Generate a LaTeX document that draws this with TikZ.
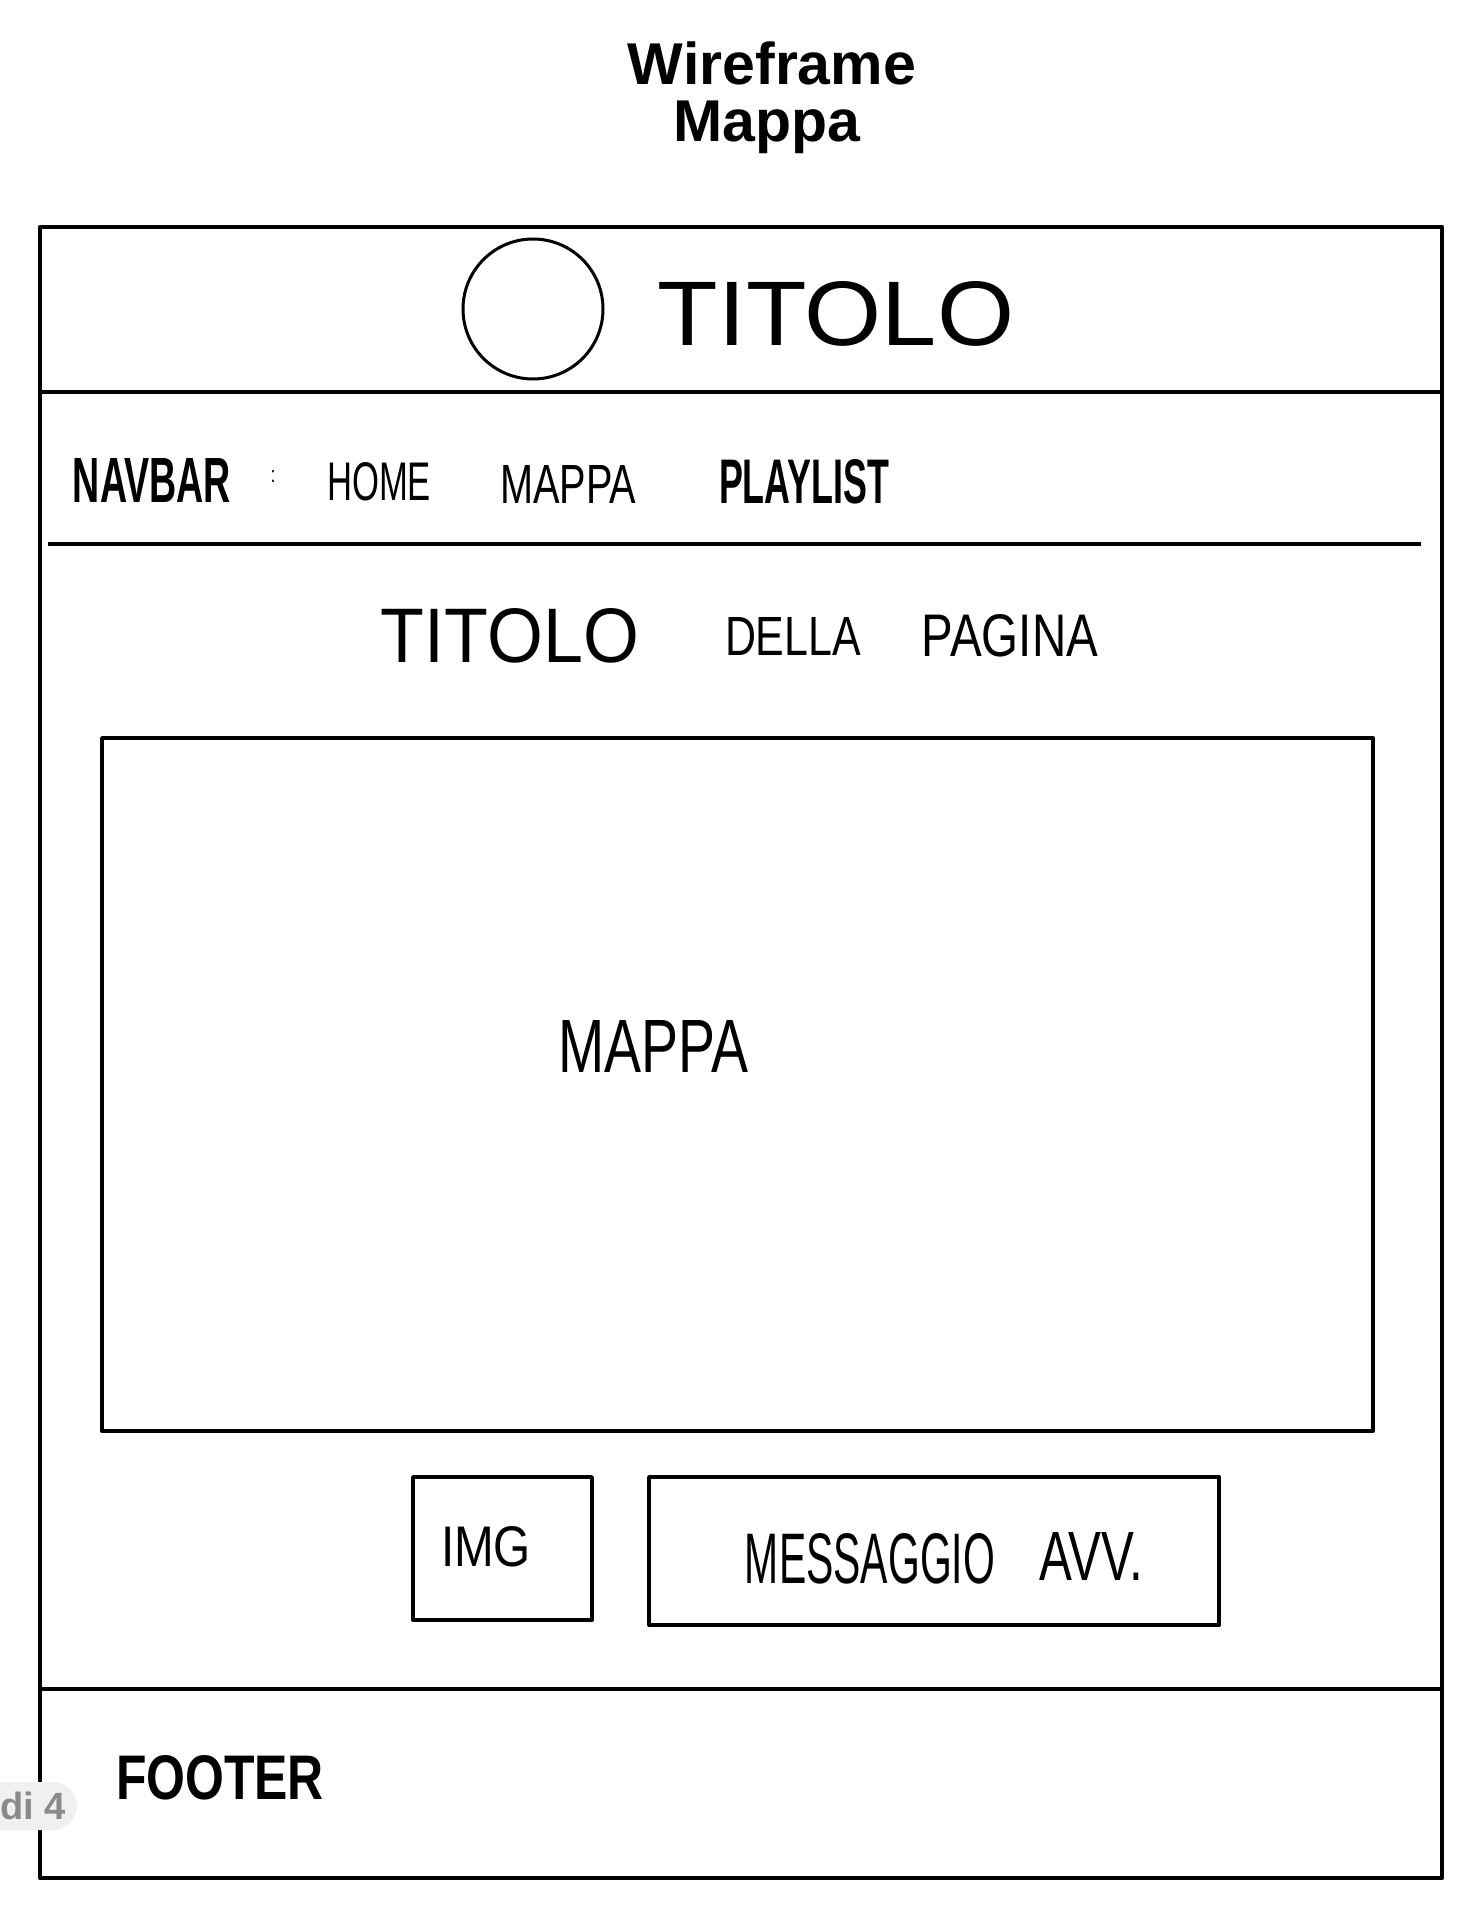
\documentclass[tikz,border=0pt]{standalone}
\usepackage{fontspec}
\usepackage{graphicx}
\setmainfont{Liberation Sans}
\newfontfamily\handfont{Liberation Sans}
\newfontfamily\titlefont{Liberation Sans}
\newcommand\hw[3]{\resizebox{#1pt}{#2pt}{\handfont #3}}
\newcommand\hwb[3]{\resizebox{#1pt}{#2pt}{\handfont\bfseries #3}}
\definecolor{badgefill}{HTML}{F0F0F0}
\definecolor{badgetext}{HTML}{8A8A8A}
\begin{document}
\begin{tikzpicture}[x=0.5pt,y=-0.5pt,
  hand/.style={inner sep=0pt, anchor=center},
  heavy/.style={line width=2.2pt, line join=round, line cap=round},
  boxline/.style={line width=1.9pt, line join=round},
  ttl/.style={inner sep=0pt, anchor=base, font=\titlefont\bfseries\fontsize{29.5pt}{30pt}\selectfont}]
\useasboundingbox (0,0) rectangle (1464,1910);
\fill[white] (0,0) rectangle (1464,1910);

% title
\node[ttl] (t1) at (772,85) {Wireframe};
\node[ttl] (t2) at (767,142) {Mappa};

% outer frame and section lines
\draw[heavy] (40,227) rectangle (1442,1878);
\draw[heavy] (40,392) -- (1442,392);
\draw[boxline] (48,544) -- (1421,544);
\draw[heavy] (40,1689) -- (1442,1689);

% header
\node[draw, circle, line width=1.5pt, minimum size=70pt, inner sep=0pt] (logo) at (533,309) {};
\node[hand] (titolo) at (836,314) {\hw{178}{32}{TITOLO}};

% navbar
\node[hand] (nav) at (152,480) {\hwb{79}{22}{NAVBAR}};
\node[hand] (colon) at (273,476) {\hw{2.5}{6}{:}};
\node[hand] (home) at (379,482) {\hw{52}{19}{HOME}};
\node[hand] (mappanav) at (568,484) {\hw{68}{19}{MAPPA}};
\node[hand] (playlist) at (804,482) {\hwb{85}{22}{PLAYLIST}};

% page title
\node[hand] (pt1) at (510,636) {\hw{129}{27}{TITOLO}};
\node[hand] (pt2) at (793,636) {\hw{68}{19}{DELLA}};
\node[hand] (pt3) at (1010,636) {\hw{88}{21}{PAGINA}};

% map
\draw[boxline] (102,738) rectangle (1373,1431);
\node[hand] (mappa) at (653,1046) {\hw{95}{26}{MAPPA}};

% img + message
\draw[boxline] (413,1477) rectangle (592,1620);
\node[hand] (img) at (486,1547) {\hw{45}{20}{IMG}};
\draw[boxline] (649,1477) rectangle (1219,1625);
\node[hand] (msg1) at (870,1559) {\hw{125}{25}{MESSAGGIO}};
\node[hand] (msg2) at (1091,1556) {\hw{52}{24}{AVV.}};

% footer
\node[hand] (footer) at (220,1778) {\hwb{104}{22}{FOOTER}};

% page badge
\fill[badgefill, rounded corners=12pt] (-30,1782) rectangle (77,1830);
\node[inner sep=0pt, anchor=center, text=badgetext, font=\bfseries\fontsize{19pt}{20pt}\selectfont] (badge) at (33,1806) {di 4};
\end{tikzpicture}
\end{document}
